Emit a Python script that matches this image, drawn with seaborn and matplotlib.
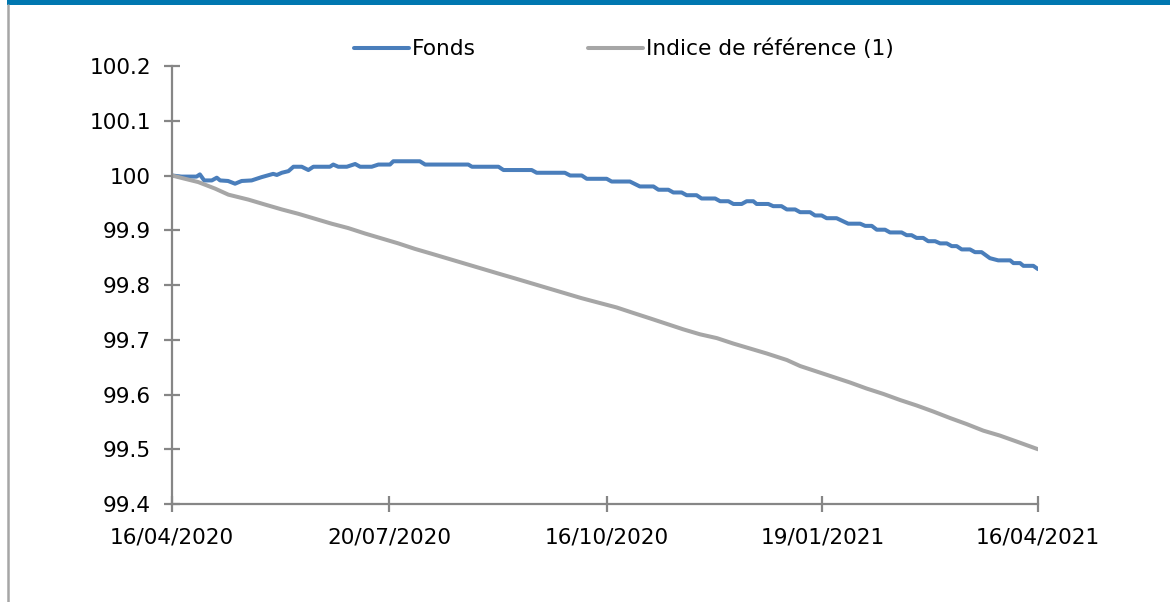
import numpy as np
import pandas as pd
import matplotlib
matplotlib.use("Agg")
import matplotlib.pyplot as plt
import seaborn as sns
from matplotlib.patches import Rectangle
from matplotlib.lines import Line2D

fonds_x = [0, 2.9, 7.4, 8.4, 9.7, 12.0, 13.5, 14.5, 16.9, 19.0, 21.0, 24.0, 27.0, 30.5,
           31.6, 33.1, 35.1, 36.6, 39.1, 41.1, 42.6, 47.6, 48.6, 50.1, 52.7, 55.2, 56.7,
           60.2, 62.2, 65.7, 66.7, 74.7, 76.3, 89.3, 90.4, 98.4, 99.9, 108.4, 109.9,
           118.4, 120.0, 123.5, 125.0, 131.0, 132.5, 138.0, 141.0, 145.1, 146.6, 149.6,
           151.1, 153.6, 155.1, 158.1, 159.6, 163.7, 165.2, 167.7, 169.2, 171.7, 173.2,
           175.2, 176.2, 179.7, 181.2, 183.7, 185.3, 187.8, 189.3, 192.3, 193.8, 195.8,
           197.3, 200.3, 203.8, 207.4, 208.9, 210.9, 212.4, 214.9, 216.4, 219.9, 221.4,
           222.9, 224.4, 226.4, 227.9, 230.0, 231.5, 233.5, 235.0, 236.5, 238.0, 240.5,
           242.0, 244.0, 246.5, 249.0, 252.6, 253.6, 255.6, 256.6, 259.6, 261.0]
fonds_v = [100.000, 99.998, 99.998, 100.002, 99.991, 99.991, 99.996, 99.991, 99.990,
           99.985, 99.990, 99.991, 99.997, 100.003, 100.001, 100.005, 100.008, 100.016,
           100.016, 100.010, 100.016, 100.016, 100.020, 100.016, 100.016, 100.021,
           100.016, 100.016, 100.020, 100.020, 100.026, 100.026, 100.020, 100.020,
           100.016, 100.016, 100.010, 100.010, 100.005, 100.005, 100.000, 100.000,
           99.994, 99.994, 99.989, 99.989, 99.980, 99.980, 99.974, 99.974, 99.969,
           99.969, 99.964, 99.964, 99.958, 99.958, 99.953, 99.953, 99.948, 99.948,
           99.953, 99.953, 99.948, 99.948, 99.944, 99.944, 99.938, 99.938, 99.933,
           99.933, 99.927, 99.927, 99.922, 99.922, 99.912, 99.912, 99.908, 99.908,
           99.901, 99.901, 99.896, 99.896, 99.891, 99.891, 99.886, 99.886, 99.880,
           99.880, 99.876, 99.876, 99.871, 99.871, 99.865, 99.865, 99.860, 99.860,
           99.849, 99.845, 99.845, 99.840, 99.840, 99.835, 99.835, 99.829]

indice_x = [0, 3.9, 7.9, 13.0, 17.0, 23.0, 28.0, 33.1, 38.1, 43.1, 48.1, 53.1, 58.2,
            63.2, 68.2, 73.2, 78.3, 83.3, 88.3, 93.3, 98.3, 103.4, 108.4, 113.4, 118.4,
            123.4, 129.0, 134.0, 139.0, 144.1, 149.1, 154.1, 159.1, 164.2, 169.2, 174.2,
            179.2, 185.3, 189.3, 194.3, 199.3, 204.3, 209.3, 214.4, 219.4, 224.4, 229.4,
            234.5, 239.5, 244.5, 249.5, 254.6, 261.0]
indice_v = [100.000, 99.994, 99.988, 99.976, 99.965, 99.956, 99.947, 99.938, 99.930,
            99.921, 99.912, 99.904, 99.894, 99.885, 99.876, 99.866, 99.857, 99.848,
            99.839, 99.830, 99.821, 99.812, 99.803, 99.794, 99.785, 99.776, 99.767,
            99.759, 99.749, 99.739, 99.729, 99.719, 99.710, 99.703, 99.693, 99.684,
            99.675, 99.663, 99.652, 99.642, 99.632, 99.622, 99.611, 99.601, 99.590,
            99.580, 99.569, 99.557, 99.546, 99.534, 99.525, 99.514, 99.500]

tick_labels = ["16/04/2020", "20/07/2020", "16/10/2020", "19/01/2021", "16/04/2021"]
tick_pos = [0, 65.5, 131, 196, 261]
y_ticks = [99.4, 99.5, 99.6, 99.7, 99.8, 99.9, 100.0, 100.1, 100.2]
y_labels = ["99.4", "99.5", "99.6", "99.7", "99.8", "99.9", "100", "100.1", "100.2"]

series_names = ["Fonds", "Indice de référence (1)"]
colors = ["#4A7EBB", "#A6A6A6"]

df = pd.concat([
    pd.DataFrame({"x": fonds_x, "v": fonds_v, "s": series_names[0]}),
    pd.DataFrame({"x": indice_x, "v": indice_v, "s": series_names[1]}),
])

sns.set_theme(style="white")
plt.rcParams["font.family"] = ["DejaVu Sans"]
plt.rcParams["text.color"] = "black"

FS = 15.6

fig = plt.figure(figsize=(11.7, 6.02), dpi=100)
ax = fig.add_axes([172 / 1170, 1 - 504 / 602, (1038 - 172) / 1170, (504 - 66) / 602])

sns.lineplot(data=df, x="x", y="v", hue="s", palette=colors, hue_order=series_names,
             linewidth=2.9, ax=ax, legend=False, estimator=None, sort=False)

ax.set_xlim(0, 261)
ax.set_ylim(99.4, 100.2)
ax.set_xticks(tick_pos)
ax.set_xticklabels(tick_labels)
ax.set_yticks(y_ticks)
ax.set_yticklabels(y_labels)
ax.set_xlabel("")
ax.set_ylabel("")

axis_col = "#868686"
for side in ["top", "right"]:
    ax.spines[side].set_visible(False)
for side in ["left", "bottom"]:
    ax.spines[side].set_color(axis_col)
    ax.spines[side].set_linewidth(1.6)
ax.tick_params(axis="both", which="major", direction="inout", length=12, width=1.6,
               color=axis_col, labelsize=FS, labelcolor="black")
ax.tick_params(axis="y", pad=9)
ax.tick_params(axis="x", pad=11)
ax.tick_params(left=True, bottom=True)

handles = [Line2D([0], [0], color=c, lw=2.9) for c in colors]
fig.legend(handles, series_names, loc="center", bbox_to_anchor=(624 / 1170, 1 - 49 / 602),
           ncol=2, frameon=False, fontsize=FS, handlelength=2.5, handletextpad=0.15,
           columnspacing=5.2, labelcolor="black")

# frame decorations: blue bar on top, gray line on the left
fig.add_artist(Rectangle((7 / 1170, 1 - 5 / 602), 1, 5 / 602, transform=fig.transFigure,
                         facecolor="#0077B0", edgecolor="none"))
fig.add_artist(Line2D([7.5 / 1170, 7.5 / 1170], [0, 1 - 5 / 602], transform=fig.transFigure,
                      color="#A6A6A6", lw=1.8))

fig.savefig("out.png", dpi=100)
